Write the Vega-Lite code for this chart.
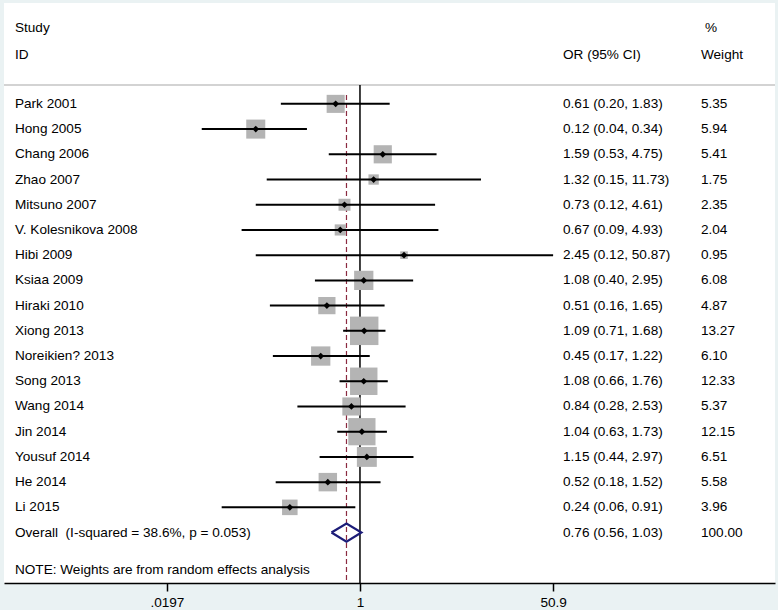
{
  "$schema": "https://vega.github.io/schema/vega-lite/v6.json",
  "width": 771,
  "height": 580,
  "autosize": {"type": "none"},
  "padding": {"left": 4, "top": 3, "right": 3, "bottom": 27},
  "background": "#eaf2f3",
  "config": {
    "view": {"stroke": null, "fill": "white"},
    "text": {"font": "Liberation Sans", "fontSize": 13.6, "color": "black", "baseline": "middle", "align": "left"}
  },
  "datasets": {
    "studies": [
      {"study": "Park 2001", "row": 1, "or": 0.61, "lo": 0.20, "hi": 1.83, "w": 5.35, "ci": "0.61 (0.20, 1.83)", "wt": "5.35"},
      {"study": "Hong 2005", "row": 2, "or": 0.12, "lo": 0.04, "hi": 0.34, "w": 5.94, "ci": "0.12 (0.04, 0.34)", "wt": "5.94"},
      {"study": "Chang 2006", "row": 3, "or": 1.59, "lo": 0.53, "hi": 4.75, "w": 5.41, "ci": "1.59 (0.53, 4.75)", "wt": "5.41"},
      {"study": "Zhao 2007", "row": 4, "or": 1.32, "lo": 0.15, "hi": 11.73, "w": 1.75, "ci": "1.32 (0.15, 11.73)", "wt": "1.75"},
      {"study": "Mitsuno 2007", "row": 5, "or": 0.73, "lo": 0.12, "hi": 4.61, "w": 2.35, "ci": "0.73 (0.12, 4.61)", "wt": "2.35"},
      {"study": "V. Kolesnikova 2008", "row": 6, "or": 0.67, "lo": 0.09, "hi": 4.93, "w": 2.04, "ci": "0.67 (0.09, 4.93)", "wt": "2.04"},
      {"study": "Hibi 2009", "row": 7, "or": 2.45, "lo": 0.12, "hi": 50.87, "w": 0.95, "ci": "2.45 (0.12, 50.87)", "wt": "0.95"},
      {"study": "Ksiaa 2009", "row": 8, "or": 1.08, "lo": 0.40, "hi": 2.95, "w": 6.08, "ci": "1.08 (0.40, 2.95)", "wt": "6.08"},
      {"study": "Hiraki 2010", "row": 9, "or": 0.51, "lo": 0.16, "hi": 1.65, "w": 4.87, "ci": "0.51 (0.16, 1.65)", "wt": "4.87"},
      {"study": "Xiong 2013", "row": 10, "or": 1.09, "lo": 0.71, "hi": 1.68, "w": 13.27, "ci": "1.09 (0.71, 1.68)", "wt": "13.27"},
      {"study": "Noreikien? 2013", "row": 11, "or": 0.45, "lo": 0.17, "hi": 1.22, "w": 6.10, "ci": "0.45 (0.17, 1.22)", "wt": "6.10"},
      {"study": "Song 2013", "row": 12, "or": 1.08, "lo": 0.66, "hi": 1.76, "w": 12.33, "ci": "1.08 (0.66, 1.76)", "wt": "12.33"},
      {"study": "Wang 2014", "row": 13, "or": 0.84, "lo": 0.28, "hi": 2.53, "w": 5.37, "ci": "0.84 (0.28, 2.53)", "wt": "5.37"},
      {"study": "Jin 2014", "row": 14, "or": 1.04, "lo": 0.63, "hi": 1.73, "w": 12.15, "ci": "1.04 (0.63, 1.73)", "wt": "12.15"},
      {"study": "Yousuf 2014", "row": 15, "or": 1.15, "lo": 0.44, "hi": 2.97, "w": 6.51, "ci": "1.15 (0.44, 2.97)", "wt": "6.51"},
      {"study": "He 2014", "row": 16, "or": 0.52, "lo": 0.18, "hi": 1.52, "w": 5.58, "ci": "0.52 (0.18, 1.52)", "wt": "5.58"},
      {"study": "Li 2015", "row": 17, "or": 0.24, "lo": 0.06, "hi": 0.91, "w": 3.96, "ci": "0.24 (0.06, 0.91)", "wt": "3.96"},
      {"study": "Overall \u00a0(I-squared = 38.6%, p = 0.053)", "row": 18, "ci": "0.76 (0.56, 1.03)", "wt": "100.00"}
    ],
    "diamond": [
      {"x": 0.56, "y": 18, "o": 1},
      {"x": 0.76, "y": 17.64, "o": 2},
      {"x": 1.03, "y": 18, "o": 3},
      {"x": 0.76, "y": 18.36, "o": 4},
      {"x": 0.56, "y": 18, "o": 5}
    ],
    "headers": [
      {"t": "Study", "row": -2, "col": "a"},
      {"t": "ID", "row": -0.95, "col": "a"},
      {"t": "OR (95% CI)", "row": -0.95, "col": "b"},
      {"t": "%", "row": -2, "col": "d"},
      {"t": "Weight", "row": -0.95, "col": "c"},
      {"t": "NOTE: Weights are from random effects analysis", "row": 19.5, "col": "a"}
    ]
  },
  "encoding": {
    "x": {
      "type": "quantitative",
      "scale": {"type": "log", "domain": [0.000716, 4644], "nice": false, "zero": false},
      "axis": {
        "title": null,
        "values": [0.0197, 1, 50.9],
        "labelExpr": "datum.value < 0.5 ? '.0197' : datum.value > 10 ? '50.9' : '1'",
        "grid": false,
        "domainColor": "black",
        "domainWidth": 1.5,
        "tickColor": "black",
        "tickWidth": 1.5,
        "tickSize": 8,
        "labelPadding": 4,
        "labelFont": "Liberation Sans",
        "labelFontSize": 13.6,
        "labelColor": "black"
      }
    },
    "y": {
      "type": "quantitative",
      "scale": {"domain": [-3, 20], "reverse": true, "nice": false, "zero": false},
      "axis": null
    }
  },
  "layer": [
    {
      "data": {"values": [{}]},
      "mark": {"type": "rule", "color": "#c4c4c4", "strokeWidth": 1.5},
      "encoding": {"y": {"datum": 0.25}, "x": null}
    },
    {
      "data": {"values": [{}]},
      "mark": {"type": "rule", "color": "black", "strokeWidth": 1.5},
      "encoding": {"x": {"datum": 1}, "y": {"datum": 0.25}, "y2": {"datum": 20}}
    },
    {
      "data": {"values": [{}]},
      "mark": {"type": "rule", "color": "#8b2a40", "strokeWidth": 1.2, "strokeDash": [5, 3]},
      "encoding": {"x": {"datum": 0.76}, "y": {"datum": 0.65}, "y2": {"datum": 20}}
    },
    {
      "data": {"name": "studies"},
      "transform": [{"filter": "isValid(datum.w)"}],
      "mark": {"type": "point", "shape": "square", "filled": true, "color": "#b4b4b4", "opacity": 1},
      "encoding": {
        "x": {"field": "or"},
        "y": {"field": "row"},
        "size": {"field": "w", "type": "quantitative", "scale": {"domain": [0, 100], "range": [0, 6100], "zero": true}, "legend": null}
      }
    },
    {
      "data": {"name": "studies"},
      "transform": [{"filter": "isValid(datum.w)"}],
      "mark": {"type": "rule", "color": "black", "strokeWidth": 2},
      "encoding": {"x": {"field": "lo"}, "x2": {"field": "hi"}, "y": {"field": "row"}}
    },
    {
      "data": {"name": "studies"},
      "transform": [{"filter": "isValid(datum.w)"}],
      "mark": {"type": "point", "shape": "diamond", "filled": true, "color": "black", "opacity": 1, "size": 45},
      "encoding": {"x": {"field": "or"}, "y": {"field": "row"}}
    },
    {
      "data": {"name": "diamond"},
      "mark": {"type": "line", "color": "#1c1c78", "strokeWidth": 2.2, "strokeJoin": "miter"},
      "encoding": {"x": {"field": "x"}, "y": {"field": "y"}, "order": {"field": "o", "type": "quantitative"}}
    },
    {
      "data": {"name": "studies"},
      "mark": {"type": "text"},
      "encoding": {"x": {"datum": 0.000895}, "y": {"field": "row"}, "text": {"field": "study"}}
    },
    {
      "data": {"name": "studies"},
      "mark": {"type": "text"},
      "encoding": {"x": {"datum": 62.2}, "y": {"field": "row"}, "text": {"field": "ci"}}
    },
    {
      "data": {"name": "studies"},
      "mark": {"type": "text"},
      "encoding": {"x": {"datum": 1030}, "y": {"field": "row"}, "text": {"field": "wt"}}
    },
    {
      "data": {"name": "headers"},
      "transform": [{"filter": "datum.col == 'a'"}],
      "mark": {"type": "text"},
      "encoding": {"x": {"datum": 0.000895}, "y": {"field": "row"}, "text": {"field": "t"}}
    },
    {
      "data": {"name": "headers"},
      "transform": [{"filter": "datum.col == 'b'"}],
      "mark": {"type": "text"},
      "encoding": {"x": {"datum": 62.2}, "y": {"field": "row"}, "text": {"field": "t"}}
    },
    {
      "data": {"name": "headers"},
      "transform": [{"filter": "datum.col == 'c'"}],
      "mark": {"type": "text"},
      "encoding": {"x": {"datum": 1030}, "y": {"field": "row"}, "text": {"field": "t"}}
    },
    {
      "data": {"name": "headers"},
      "transform": [{"filter": "datum.col == 'd'"}],
      "mark": {"type": "text"},
      "encoding": {"x": {"datum": 1118}, "y": {"field": "row"}, "text": {"field": "t"}}
    }
  ]
}
